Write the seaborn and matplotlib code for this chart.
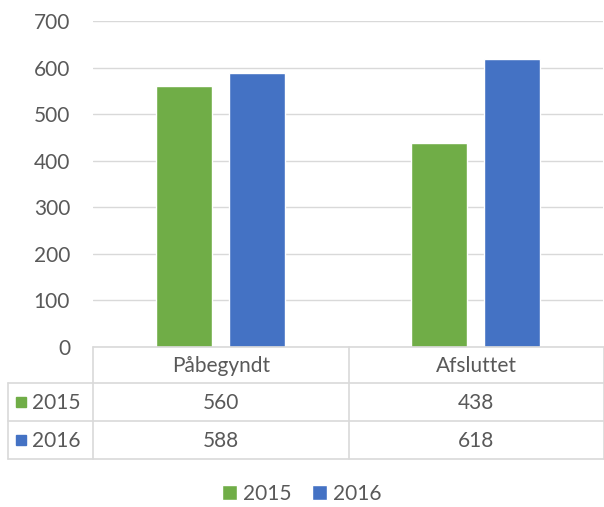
import matplotlib
matplotlib.use('Agg')
import matplotlib.pyplot as plt
from matplotlib.patches import Patch, Rectangle
import seaborn as sns
import pandas as pd

categories = ['Påbegyndt', 'Afsluttet']
years = ['2015', '2016']
values_2015 = [560, 438]
values_2016 = [588, 618]
yticks = [0, 100, 200, 300, 400, 500, 600, 700]

colors = {'2015': '#70AD47', '2016': '#4472C4'}
text_col = '#595959'
grid_col = '#D9D9D9'
fs = 15

df = pd.DataFrame({
    'Kategori': categories * 2,
    'År': ['2015'] * len(categories) + ['2016'] * len(categories),
    'Antal': values_2015 + values_2016,
})

sns.set_style('white')
plt.rcParams['font.family'] = ['Lato', 'DejaVu Sans']

W, H = 604, 507
fig = plt.figure(figsize=(W / 100, H / 100), dpi=100)
ax = fig.add_axes([93 / W, 1 - 347 / H, (603 - 93) / W, (347 - 21) / H])

sns.barplot(data=df, x='Kategori', y='Antal', hue='År', palette=colors,
            width=0.571, gap=0.22, order=categories, hue_order=years,
            saturation=1, ax=ax, legend=False)

ax.set_ylim(0, 700)
ax.set_xlim(-0.5, len(categories) - 0.5)
ax.set_yticks(yticks)
ax.set_yticklabels([str(v) for v in yticks], fontsize=fs, color=text_col)
ax.tick_params(axis='y', length=0, pad=16.5)
ax.set_xticks([])
ax.set_xlabel('')
ax.set_ylabel('')
ax.grid(axis='y', color=grid_col, linewidth=1)
ax.set_axisbelow(True)
for s in ax.spines.values():
    s.set_visible(False)

# data table below the plot, drawn in pixel coordinates
tab = fig.add_axes([0, 0, 1, 1])
tab.set_xlim(0, W)
tab.set_ylim(H, 0)
tab.axis('off')
tab.patch.set_visible(False)

x0, x_left, x_right = 93, 8, 604
col_w = (x_right - x0) / len(categories)
row_y = [347, 383, 421, 459]
line_kw = dict(color=grid_col, linewidth=1.2)

tab.plot([x0, x_right], [row_y[0], row_y[0]], **line_kw)
for y in row_y[1:]:
    tab.plot([x_left, x_right], [y, y], **line_kw)
tab.plot([x_left, x_left], [row_y[1], row_y[-1]], **line_kw)
for i in range(len(categories) + 1):
    xv = x0 + i * col_w
    tab.plot([xv, xv], [row_y[0], row_y[-1]], **line_kw)

for i, cat in enumerate(categories):
    cx = x0 + (i + 0.5) * col_w
    tab.text(cx, (row_y[0] + row_y[1]) / 2 + 1, cat, ha='center', va='center',
             fontsize=fs, color=text_col)

for r, (yr, vals) in enumerate(zip(years, [values_2015, values_2016])):
    cy = (row_y[r + 1] + row_y[r + 2]) / 2
    tab.add_patch(Rectangle((16, cy - 5), 10, 10, color=colors[yr]))
    tab.text(32, cy + 1, yr, ha='left', va='center', fontsize=fs, color=text_col)
    for i, v in enumerate(vals):
        cx = x0 + (i + 0.5) * col_w
        tab.text(cx, cy + 1, str(v), ha='center', va='center', fontsize=fs,
                 color=text_col)

handles = [Patch(facecolor=colors[y], label=y) for y in years]
fig.legend(handles=handles, loc='center', bbox_to_anchor=(0.5, 1 - 494 / H),
           ncol=2, frameon=False, fontsize=fs, labelcolor=text_col,
           handlelength=0.7, handleheight=0.7, handletextpad=0.3,
           columnspacing=1.0)

fig.savefig('out.png', dpi=100)
